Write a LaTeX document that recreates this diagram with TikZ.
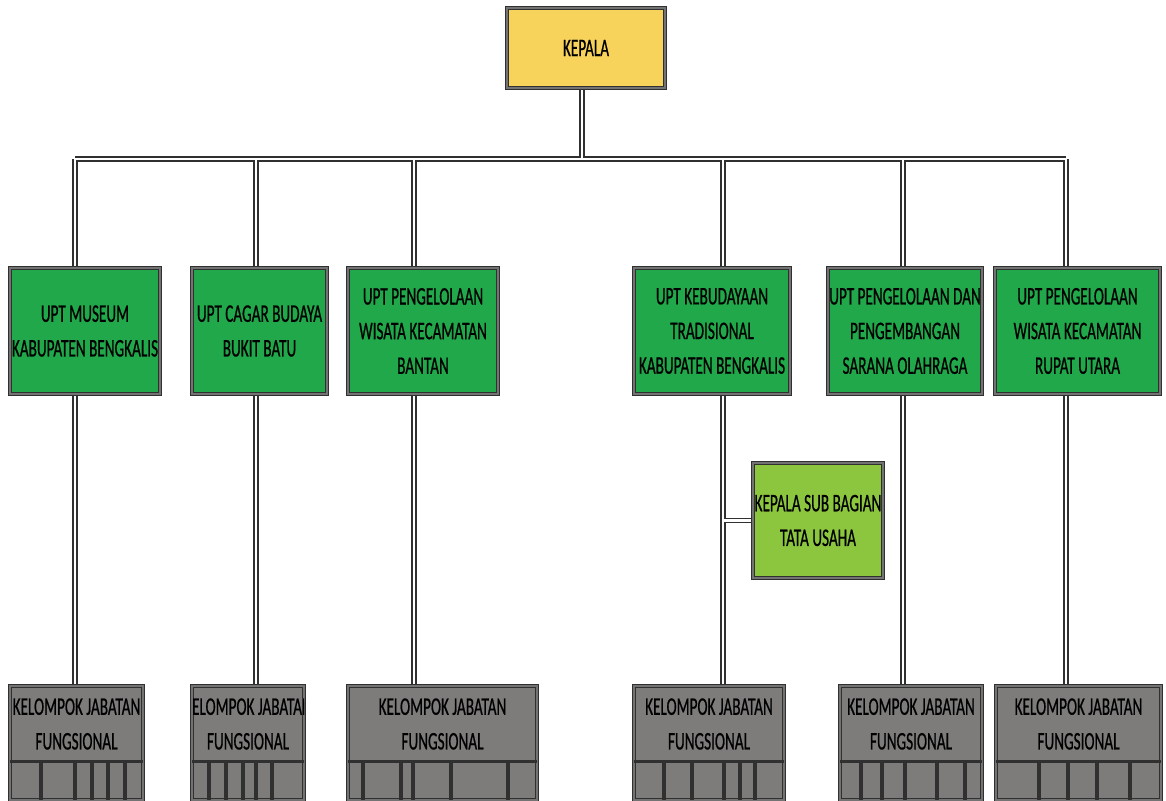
\documentclass[tikz,border=0pt]{standalone}
\usepackage{fontspec}
\newfontfamily\cond[FakeStretch=0.6,FakeBold=0.6]{Carlito}
\usetikzlibrary{backgrounds}
\definecolor{kyellow}{HTML}{F8D35B}
\definecolor{kgreen}{HTML}{20A84A}
\definecolor{klgreen}{HTML}{8CC63F}
\definecolor{kgray}{HTML}{7E7B7B}
\definecolor{kline}{HTML}{303030}
\tikzset{
  box/.style={draw=kline, line width=1.1pt, double=black!55, double distance=1pt,
    inner sep=0pt, outer sep=0pt, anchor=north west, align=center,
    font=\cond\fontsize{19}{26}\selectfont},
  gtext/.style={inner sep=0pt, align=center, font=\cond\fontsize{19}{26}\selectfont},
  cellline/.style={draw=kline, line width=2.4pt},
  darkconn/.style={draw=kline, line width=4pt},
  whiteconn/.style={draw=white, line width=1.6pt},
}
\newcommand\allconn[1]{%
  \draw[#1] (kep.south -| trunk) -- (trunk);
  \draw[#1] (busL) -- (busR);
  \foreach \c/\u/\k in {b1/u1/k1,b2/u2/k2,b3/u3/k3,b4/u4/k4,b5/u5/k5,b6/u6/k6}{
    \draw[#1] (\c) -- (\c |- \u.north);
    \draw[#1] (\c |- \u.south) -- (\c |- \k.north);
  }
  \draw[#1] (b4 |- sub.west) -- (sub.west);
}
\begin{document}
\begin{tikzpicture}[x=0.75pt,y=-0.75pt]
\useasboundingbox (0,0) rectangle (1166,800);
% top
\node[box, fill=kyellow, minimum width=118.5pt, minimum height=60pt] (kep) at (507,8) {KEPALA};
% row 1
\node[box, fill=kgreen, minimum width=112.5pt, minimum height=94.5pt] (u1) at (10,268) {UPT MUSEUM\\KABUPATEN BENGKALIS};
\node[box, fill=kgreen, minimum width=101.25pt, minimum height=94.5pt] (u2) at (192,268) {UPT CAGAR BUDAYA\\BUKIT BATU};
\node[box, fill=kgreen, minimum width=112.5pt, minimum height=94.5pt] (u3) at (348,268) {UPT PENGELOLAAN\\WISATA KECAMATAN\\BANTAN};
\node[box, fill=kgreen, minimum width=117pt, minimum height=94.5pt] (u4) at (634,268) {UPT KEBUDAYAAN\\TRADISIONAL\\KABUPATEN BENGKALIS};
\node[box, fill=kgreen, minimum width=115.5pt, minimum height=94.5pt] (u5) at (828,268) {UPT PENGELOLAAN DAN\\PENGEMBANGAN\\SARANA OLAHRAGA};
\node[box, fill=kgreen, minimum width=123.75pt, minimum height=94.5pt] (u6) at (995,268) {UPT PENGELOLAAN\\WISATA KECAMATAN\\RUPAT UTARA};
% sub bagian
\node[box, fill=klgreen, minimum width=97.5pt, minimum height=86.25pt] (sub) at (753,463) {KEPALA SUB BAGIAN\\TATA USAHA};
% bottom boxes
\node[box, fill=kgray, minimum width=99.75pt, minimum height=85.5pt] (k1) at (10,686) {};
\node[box, fill=kgray, minimum width=84pt, minimum height=85.5pt] (k2) at (192,686) {};
\node[box, fill=kgray, minimum width=141.75pt, minimum height=85.5pt] (k3) at (348,686) {};
\node[box, fill=kgray, minimum width=112.5pt, minimum height=85.5pt] (k4) at (634,686) {};
\node[box, fill=kgray, minimum width=106.5pt, minimum height=85.5pt] (k5) at (840,686) {};
\node[box, fill=kgray, minimum width=123.75pt, minimum height=85.5pt] (k6) at (996,686) {};
% cell rows
\foreach \k/\xs in {k1/{41,75,92,108,125}, k2/{209,226,243,256,272}, k3/{363,401,413,451,508},
                    k4/{664,692,724,740,755}, k5/{861,882,905,937,965}, k6/{1039,1068,1097,1130}}{
  \draw[cellline] ([yshift=-56.5pt]\k.north west) -- ([yshift=-56.5pt]\k.north east);
  \foreach \x in \xs { \draw[cellline] (\x,761) -- (\x,800); }
}
% bottom texts
\node[gtext] (t1) at (k1.north |- 0,724) {KELOMPOK JABATAN\\FUNGSIONAL};
\begin{scope}
  \clip (k2.north west) rectangle ([yshift=-56pt]k2.north east);
  \node[gtext] (t2) at (k2.north |- 0,724) {KELOMPOK JABATAN\\FUNGSIONAL};
\end{scope}
\node[gtext] (t3) at (k3.north |- 0,724) {KELOMPOK JABATAN\\FUNGSIONAL};
\node[gtext] (t4) at (k4.north |- 0,724) {KELOMPOK JABATAN\\FUNGSIONAL};
\node[gtext] (t5) at (k5.north |- 0,724) {KELOMPOK JABATAN\\FUNGSIONAL};
\node[gtext] (t6) at (k6.north |- 0,724) {KELOMPOK JABATAN\\FUNGSIONAL};
% connector coordinates
\coordinate (trunk) at (582,159);
\coordinate (busL) at (75,159);
\coordinate (busR) at (1066,159);
\coordinate (b1) at (75,159);
\coordinate (b2) at (256,159);
\coordinate (b3) at (414,159);
\coordinate (b4) at (723,159);
\coordinate (b5) at (903,159);
\coordinate (b6) at (1066,159);
\begin{scope}[on background layer]
  \allconn{darkconn}
  \allconn{whiteconn}
\end{scope}
\end{tikzpicture}
\end{document}
